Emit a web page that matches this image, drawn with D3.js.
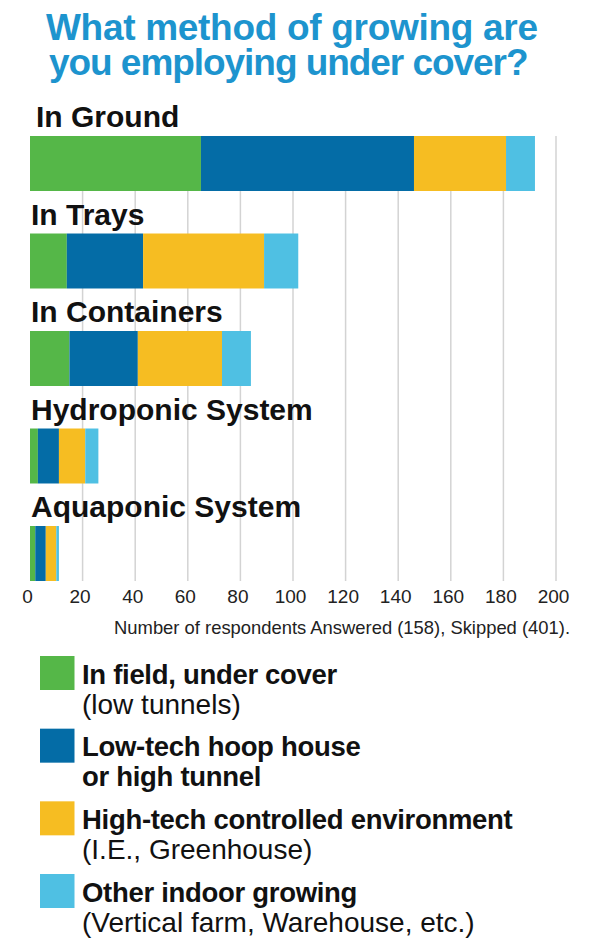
<!DOCTYPE html>
<html>
<head>
<meta charset="utf-8">
<script src="https://cdn.jsdelivr.net/npm/d3@7"></script>
<style>
  body { margin: 0; background: #fff; }
  svg { display: block; }
</style>
</head>
<body>
<div id="chart"></div>
<script>
// categories (rows of the chart)
const methods = ["In Ground", "In Trays", "In Containers", "Hydroponic System", "Aquaponic System"];

// series values, number of respondents per method
const inField = [65, 14, 15, 3, 2];
const lowTech = [81, 29, 26, 8, 4];
const highTech = [35, 46, 32, 10, 4];
const otherIndoor = [11, 13, 11, 5, 1];

const seriesKeys = ["inField", "lowTech", "highTech", "otherIndoor"];
const seriesTitle = [["In field, under cover"], ["Low-tech hoop house", "or high tunnel"], ["High-tech controlled environment"], ["Other indoor growing"]];
const seriesNote = ["(low tunnels)", "", "(I.E., Greenhouse)", "(Vertical farm, Warehouse, etc.)"];

const xTicks = [0, 20, 40, 60, 80, 100, 120, 140, 160, 180, 200];
const titleLines = ["What method of growing are", "you employing under cover?"];
const axisTitle = "Number of respondents Answered (158), Skipped (401).";

var width = 590, height = 948;
var font = "'Liberation Sans', Arial, sans-serif";
var colors = {
  inField: "#55b748",
  lowTech: "#046ca6",
  highTech: "#f6bd22",
  otherIndoor: "#4fc0e3"
};

var rows = methods.map((m, i) => ({
  method: m,
  inField: inField[i],
  lowTech: lowTech[i],
  highTech: highTech[i],
  otherIndoor: otherIndoor[i]
}));

var svg = d3.select("#chart").append("svg")
  .attr("width", width)
  .attr("height", height);

// title, two lines in one text element
svg.append("text")
  .attr("font-family", font)
  .attr("font-weight", "bold")
  .attr("font-size", 37)
  .attr("fill", "#1d94ce")
  .selectAll("tspan")
  .data(titleLines)
  .enter().append("tspan")
  .attr("x", (d, i) => i ? 49 : 46)
  .attr("y", (d, i) => 40 + i * 35)
  .attr("letter-spacing", (d, i) => i ? -1.05 : -0.3)
  .text(d => d);

var x = d3.scaleLinear().domain([0, 200]).range([30, 556]);
var y = d3.scaleBand().domain(methods).range([136, 581]).paddingInner(0.436);

// gridlines
svg.append("g")
  .selectAll("line")
  .data(xTicks.filter(d => d > 0))
  .enter().append("line")
  .attr("x1", d => x(d))
  .attr("x2", d => x(d))
  .attr("y1", y.range()[0])
  .attr("y2", y.range()[1])
  .attr("stroke", "#d3d3d3")
  .attr("stroke-width", 1.5);

// stacked bars
var series = d3.stack().keys(seriesKeys)(rows);
svg.append("g")
  .selectAll("g")
  .data(series)
  .enter().append("g")
  .attr("fill", d => colors[d.key])
  .selectAll("rect")
  .data(d => d)
  .enter().append("rect")
  .attr("x", d => x(d[0]))
  .attr("y", d => y(d.data.method))
  .attr("width", d => x(d[1]) - x(d[0]))
  .attr("height", y.bandwidth());

// category labels above each bar
svg.append("g")
  .selectAll("text")
  .data(methods)
  .enter().append("text")
  .attr("x", (d, i) => i === 0 ? 36 : 31)
  .attr("y", d => y(d) - 9)
  .attr("font-family", font)
  .attr("font-weight", "bold")
  .attr("font-size", 30)
  .attr("fill", "#111")
  .text(d => d);

// x axis tick labels (no axis line in the original)
var axis = svg.append("g")
  .attr("transform", "translate(-3," + 603 + ")")
  .call(d3.axisBottom(x).tickValues(xTicks).tickSize(0).tickPadding(0));
axis.select(".domain").remove();
axis.selectAll("text")
  .attr("dy", 0)
  .attr("font-family", font)
  .attr("font-size", 19)
  .attr("fill", "#222");

svg.append("text")
  .attr("x", 570)
  .attr("y", 634)
  .attr("text-anchor", "end")
  .attr("font-family", font)
  .attr("font-size", 18.4)
  .attr("fill", "#222")
  .text(axisTitle);

// legend
var legendY = d3.scaleLinear().domain([0, 3]).range([656, 874]);
var legend = svg.append("g")
  .selectAll("g")
  .data(seriesKeys)
  .enter().append("g")
  .attr("transform", (d, i) => "translate(40," + legendY(i) + ")");

legend.append("rect")
  .attr("width", 34.5)
  .attr("height", 34)
  .attr("fill", d => colors[d]);

legend.each(function (key, i) {
  var g = d3.select(this);
  var lines = seriesTitle[i].map(t => ({ text: t, bold: true }));
  if (seriesNote[i]) lines.push({ text: seriesNote[i], bold: false });
  g.selectAll("text")
    .data(lines)
    .enter().append("text")
    .attr("x", 42)
    .attr("y", (d, j) => 27.5 + j * 30)
    .attr("font-family", font)
    .attr("font-weight", d => d.bold ? "bold" : "normal")
    .attr("font-size", d => d.bold ? 27.5 : 28)
    .attr("letter-spacing", d => d.bold ? -0.3 : 0)
    .attr("fill", "#111")
    .text(d => d.text);
});
</script>
</body>
</html>
